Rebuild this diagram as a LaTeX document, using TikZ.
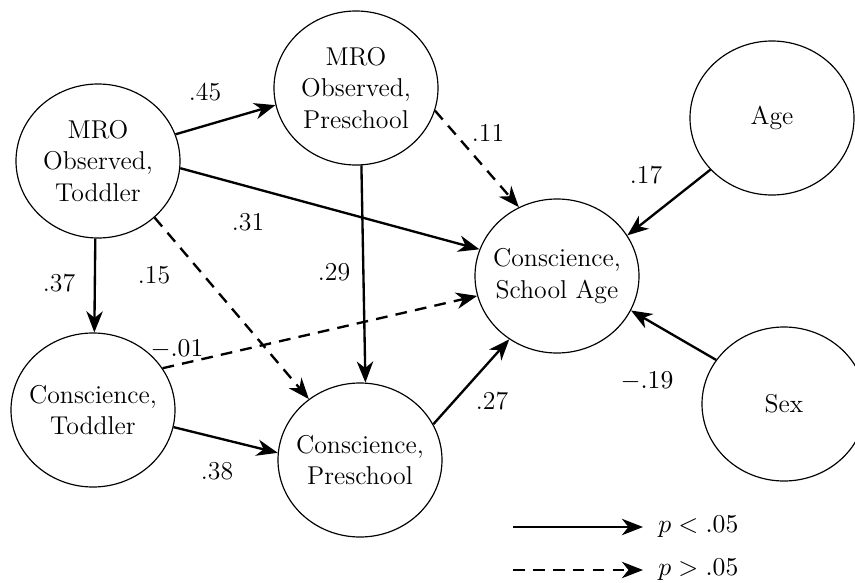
\documentclass[tikz,border=0pt]{standalone}
\usepackage{amsmath}
\usetikzlibrary{shapes.geometric,arrows.meta}

\begin{document}
\begin{tikzpicture}[
    x=0.015cm, y=-0.015cm,
    font=\fontsize{11}{13.5}\selectfont,
    var/.style={draw, ellipse, line width=0.5pt, minimum width=2.46cm, minimum height=2.31cm, inner sep=0pt},
    vtext/.style={align=center, inner sep=0pt},
    sig/.style={-{Stealth[length=9pt, width=7pt, inset=2.8pt]}, line width=1pt},
    nonsig/.style={sig, dash pattern=on 5pt off 3.5pt},
    coef/.style={inner sep=1pt},
]
\useasboundingbox (0,0) rectangle (855,583);

% ============================================================
% VARIABLES
% ============================================================
\node[var, label={[vtext]center:MRO\\Observed,\\Toddler}] (mrot) at (98,161) {};
\node[var, label={[vtext]center:MRO\\Observed,\\Preschool}] (mrop) at (356,88) {};
\node[var, label={[vtext]center:Conscience,\\School Age}] (csch) at (557,276) {};
\node[var, label={[vtext]center:Age}] (age) at (772,118) {};
\node[var, label={[vtext]center:Conscience,\\Toddler}] (ctod) at (93,410) {};
\node[var, label={[vtext]center:Conscience,\\Preschool}] (cpre) at (360,460) {};
\node[var, label={[vtext]center:Sex}] (sex) at (784,404) {};

% ============================================================
% PATHS
% ============================================================
\draw[sig] (mrot.19) -- (mrop.192);
\draw[sig] (mrot.355) -- (csch.161);
\draw[sig] (mrot.268) -- (ctod.89);
\draw[nonsig] (mrot.315) -- (cpre.130);
\draw[nonsig] (mrop.344) -- (csch.119);
\draw[sig] (mrop.274) -- (cpre.86);
\draw[nonsig] (ctod.31) -- (csch.194);
\draw[sig] (ctod.348) -- (cpre.175);
\draw[sig] (cpre.26) -- (csch.233);
\draw[sig] (age.220) -- (csch.30);
\draw[sig] (sex.147) -- (csch.335);

% Coefficients
\node[coef] (b45) at (205,92) {.45};
\node[coef] (b31) at (248,222) {.31};
\node[coef] (b37) at (59,283) {.37};
\node[coef] (b15) at (154,275) {.15};
\node[coef] (b29) at (334,272) {.29};
\node[coef] (b11) at (488,133) {.11};
\node[coef] (b17) at (646,175) {.17};
\node[coef] (b01) at (177,349) {$-.01$};
\node[coef] (b38) at (217,471) {.38};
\node[coef] (b27) at (492,401) {.27};
\node[coef] (b19) at (647,381) {$-.19$};

% ============================================================
% LEGEND
% ============================================================
\coordinate (sigA) at (513,527);
\coordinate (sigB) at (643,527);
\coordinate (nsA) at (513,570);
\coordinate (nsB) at (643,570);
\draw[sig] (sigA) -- (sigB);
\draw[nonsig] (nsA) -- (nsB);
\node[anchor=west, inner sep=0pt] (sigtxt) at (658,527) {$p < .05$};
\node[anchor=west, inner sep=0pt] (nstxt) at (658,570) {$p > .05$};
\end{tikzpicture}
\end{document}
